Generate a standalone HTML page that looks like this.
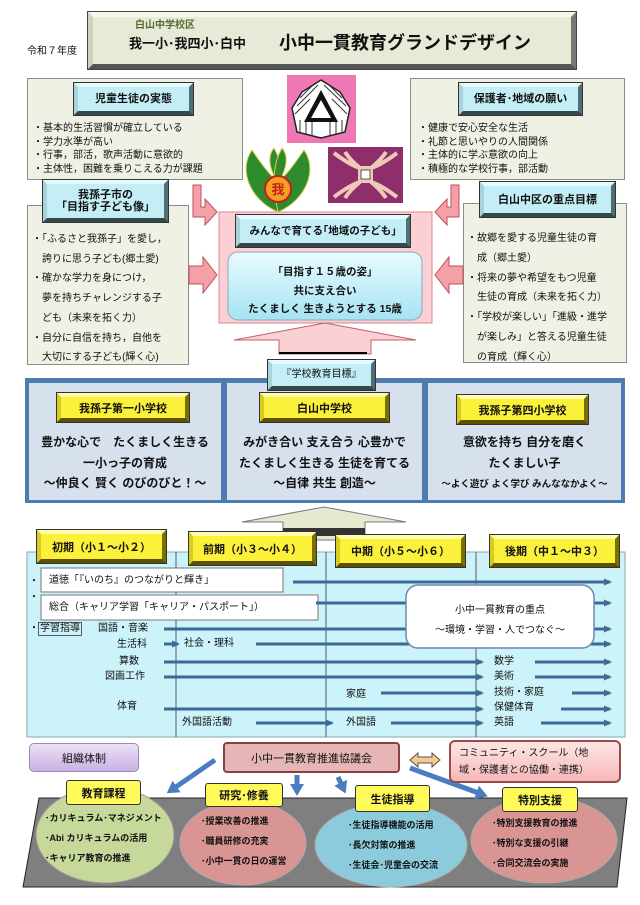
<!DOCTYPE html>
<html><head><meta charset="utf-8">
<style>
*{margin:0;padding:0;box-sizing:border-box}
body{width:640px;height:905px;background:#fff;position:relative;overflow:hidden;font-family:"Liberation Sans","Noto Sans CJK JP",sans-serif;color:#111}
.a{position:absolute}
.bevc{position:absolute;background:#c4eef6;border:4px solid;border-color:#e6fafd #4e6f74 #33494c #a8d3da;box-shadow:0 0 0 1px #333;display:flex;align-items:center;justify-content:center;font-weight:bold;font-size:11px;line-height:12px;text-align:center}
.bevy{position:absolute;background:#fbf03a;border:4px solid;border-color:#fffbb0 #7a7000 #5a5200 #d8cc20;box-shadow:0 0 0 1px #333;display:flex;align-items:center;justify-content:center;font-weight:bold;font-size:11px}
.box{position:absolute;background:#eef1e4;border:1px solid #8a8f86}
.t{position:absolute;font-size:10px;white-space:nowrap;line-height:12px}
.c{position:absolute;text-align:center;font-weight:bold;font-size:12px;white-space:nowrap}
.yl{position:absolute;background:#fff95a;border:1px solid #333;border-radius:3px;font-weight:bold;font-size:11px;display:flex;align-items:center;justify-content:center}
.it{position:absolute;font-size:9px;font-weight:bold;white-space:nowrap;line-height:20px}
</style></head><body>

<div class="a" style="left:88px;top:12px;width:488px;height:57px;background:#e7ead6;border:5px solid;border-color:#f6f8ec #777 #555 #cfd2bd;box-shadow:0 0 0 1px #444"></div>
<div class="t" style="left:135px;top:20px;font-size:10px;font-weight:bold;color:#556b2f">白山中学校区</div>
<div class="t" style="left:129px;top:36px;font-size:13px;font-weight:bold;line-height:16px">我一小･我四小･白中</div>
<div class="t" style="left:279px;top:33px;font-size:18px;font-weight:bold;line-height:20px">小中一貫教育グランドデザイン</div>
<div class="t" style="left:27px;top:46px;font-size:10px">令和７年度</div>

<div class="box" style="left:27px;top:78px;width:216px;height:102px"></div>
<div class="bevc" style="left:74px;top:83px;width:119px;height:32px">児童生徒の実態</div>
<div class="t" style="left:33px;top:122px;line-height:13.5px">・基本的生活習慣が確立している<br>・学力水準が高い<br>・行事，部活，歌声活動に意欲的<br>・主体性，困難を乗りこえる力が課題</div>

<div class="box" style="left:410px;top:78px;width:215px;height:102px"></div>
<div class="bevc" style="left:459px;top:83px;width:123px;height:32px">保護者･地域の願い</div>
<div class="t" style="left:418px;top:122px;line-height:13.5px">・健康で安心安全な生活<br>・礼節と思いやりの人間関係<br>・主体的に学ぶ意欲の向上<br>・積極的な学校行事，部活動</div>

<div class="box" style="left:27px;top:205px;width:162px;height:160px"></div>
<div class="bevc" style="left:43px;top:180px;width:125px;height:42px">我孫子市の<br>「目指す子ども像」</div>
<div class="t" style="left:32px;top:230px;line-height:19.7px">・「ふるさと我孫子」を愛し，<br>　誇りに思う子ども(郷土愛)<br>・確かな学力を身につけ，<br>　夢を持ちチャレンジする子<br>　ども（未来を拓く力）<br>・自分に自信を持ち，自他を<br>　大切にする子ども(輝く心)</div>

<div class="box" style="left:463px;top:203px;width:164px;height:160px"></div>
<div class="bevc" style="left:480px;top:182px;width:135px;height:35px">白山中区の重点目標</div>
<div class="t" style="left:467px;top:229px;line-height:19.8px">・故郷を愛する児童生徒の育<br>　成（郷土愛）<br>・将来の夢や希望をもつ児童<br>　生徒の育成（未来を拓く力）<br>・「学校が楽しい」「進級・進学<br>　が楽しみ」と答える児童生徒<br>　の育成（輝く心）</div>

<svg class="a" style="left:0;top:0" width="640" height="905">
 <rect x="287" y="75" width="69" height="68" fill="#ef78b4"/>
 <polygon points="321,80 340,92 350,108 345,132 321,138 297,132 292,108 302,92" fill="#fff" stroke="#222" stroke-width="1.5"/>
 <g stroke="#333" stroke-width="1">
  <line x1="300" y1="98" x2="312" y2="86"/><line x1="297" y1="106" x2="318" y2="85"/><line x1="295" y1="114" x2="310" y2="99"/>
  <line x1="330" y1="86" x2="342" y2="98"/><line x1="324" y1="85" x2="346" y2="106"/><line x1="332" y1="99" x2="347" y2="114"/>
  <line x1="300" y1="120" x2="300" y2="132"/><line x1="306" y1="120" x2="306" y2="134"/><line x1="312" y1="120" x2="312" y2="136"/><line x1="330" y1="120" x2="330" y2="136"/><line x1="336" y1="120" x2="336" y2="134"/><line x1="342" y1="120" x2="342" y2="132"/>
 </g>
 <polygon points="321,90 338,122 304,122" fill="#111"/>
 <polygon points="321,100 331,118 311,118" fill="#fff"/>
 <rect x="328" y="147" width="75" height="56" fill="#8e2f6c"/>
 <g fill="none" stroke="#f0c8b8" stroke-width="4">
  <path d="M334,153 Q350,165 360,168 Q350,160 345,152"/><path d="M397,153 Q381,165 371,168 Q381,160 386,152"/>
  <path d="M334,197 Q350,185 360,182 Q350,190 345,198"/><path d="M397,197 Q381,185 371,182 Q381,190 386,198"/>
 </g>
 <rect x="358" y="166" width="15" height="17" fill="#f0c8b8"/><rect x="361" y="170" width="9" height="9" fill="#fff" stroke="#555"/>
 <path d="M278,212 C250,200 238,170 252,150 C262,165 270,175 276,180 C268,165 268,155 274,148 C282,162 285,178 278,212Z" fill="#2e8b2e" stroke="#d8d050"/>
 <path d="M278,212 C306,200 318,170 304,150 C294,165 286,175 280,180 C288,165 288,155 282,148 C274,162 271,178 278,212Z" fill="#2e8b2e" stroke="#d8d050"/>
 <circle cx="278" cy="189" r="13" fill="#f5a020" stroke="#c02020" stroke-width="2"/>
 <text x="278" y="194" font-size="13" text-anchor="middle" fill="#c02020" font-weight="bold" font-family="Noto Sans CJK JP">我</text>

 <path d="M193,185 h8 v22 h4 v-8 l12,13 -12,13 v-8 h-12z" fill="#f4a0a8" stroke="#c05058"/>
 <path d="M459,185 h-8 v22 h-4 v-8 l-12,13 12,13 v-8 h12z" fill="#f4a0a8" stroke="#c05058"/>
 <path d="M189,266 h14 v-9 l14,18 -14,18 v-9 h-14z" fill="#f4a0a8" stroke="#c05058"/>
 <path d="M463,266 h-14 v-9 l-14,18 14,18 v-9 h14z" fill="#f4a0a8" stroke="#c05058"/>
 <rect x="219" y="212" width="213" height="111" fill="#fbd0d4" stroke="#d88890"/>
 <defs><linearGradient id="lb" x1="0" y1="0" x2="0" y2="1"><stop offset="0" stop-color="#e8fbfe"/><stop offset="1" stop-color="#a6e3f3"/></linearGradient></defs>
 <rect x="228" y="252" width="194" height="68" rx="10" fill="url(#lb)" stroke="#8ab"/>
 <path d="M279,354 v-14 h-45 l91,-17 91,17 h-45 v14z" fill="#fbd0d4" stroke="#c06068"/>
 <line x1="279" y1="353" x2="367" y2="353" stroke="#000" stroke-width="2"/>

 <rect x="25" y="378" width="600" height="125" fill="#4f7cb0"/>
 <rect x="29" y="383" width="192" height="117" fill="#d7e1ee"/>
 <rect x="227" y="383" width="195" height="117" fill="#d7e1ee"/>
 <rect x="428" y="383" width="193" height="117" fill="#d7e1ee"/>
 <path d="M283,540 v-18 h-41 l82,-15 82,15 h-41 v18z" fill="#e4ead0" stroke="#778"/>
 <rect x="283" y="528" width="82" height="8" fill="#333"/>

 <rect x="27" y="552" width="598" height="185" fill="#cdf3fa" stroke="#8aa"/>
 <g stroke="#557" stroke-width="1"><line x1="176" y1="552" x2="176" y2="737"/><line x1="326" y1="552" x2="326" y2="737"/><line x1="476" y1="552" x2="476" y2="737"/></g>
 <rect x="41" y="568" width="242" height="24" fill="#fff" stroke="#777"/>
 <rect x="41" y="595" width="277" height="25" fill="#fff" stroke="#777"/>
 <defs><marker id="ah" markerWidth="8" markerHeight="8" refX="6" refY="4" orient="auto" markerUnits="userSpaceOnUse"><path d="M0,0.5 L8,4 0,7.5z" fill="#3c6a96"/></marker>
 <marker id="bh" markerWidth="14" markerHeight="14" refX="8" refY="7" orient="auto" markerUnits="userSpaceOnUse"><path d="M0,0 L12,7 0,14z" fill="#4a7cc0"/></marker></defs>
 <g stroke="#3c6a96" stroke-width="3" marker-end="url(#ah)">
  <line x1="293" y1="582" x2="610" y2="582"/>
  <line x1="316" y1="603" x2="610" y2="603"/>
  <line x1="164" y1="629" x2="610" y2="629"/>
  <line x1="164" y1="644" x2="178" y2="644"/>
  <line x1="256" y1="644" x2="610" y2="644"/>
  <line x1="164" y1="662" x2="482" y2="662"/><line x1="535" y1="662" x2="610" y2="662"/>
  <line x1="164" y1="677" x2="482" y2="677"/><line x1="535" y1="677" x2="610" y2="677"/>
  <line x1="381" y1="693" x2="482" y2="693"/><line x1="572" y1="693" x2="610" y2="693"/>
  <line x1="164" y1="709" x2="482" y2="709"/><line x1="561" y1="709" x2="610" y2="709"/>
  <line x1="256" y1="723" x2="332" y2="723"/><line x1="391" y1="723" x2="482" y2="723"/><line x1="541" y1="723" x2="610" y2="723"/>
 </g>
 <rect x="406" y="585" width="188" height="63" rx="12" fill="#fff" stroke="#6a8ab0" stroke-width="1.5"/>

 <polygon points="39,798 627,798 617,887 23,887" fill="#7f7f7f" stroke="#222"/>
 <ellipse cx="105" cy="835" rx="69" ry="48" fill="#c6d89a" stroke="#999"/>
 <ellipse cx="243" cy="843" rx="63" ry="42" fill="#d99494" stroke="#aaa"/>
 <ellipse cx="391" cy="845" rx="76" ry="42" fill="#8ccbdc" stroke="#aaa"/>
 <ellipse cx="544" cy="840" rx="73" ry="43" fill="#d99494" stroke="#aaa"/>
 <g stroke="#4a7cc0" stroke-width="5" marker-end="url(#bh)">
  <line x1="215" y1="760" x2="170" y2="791"/>
  <line x1="297" y1="775" x2="297" y2="792"/>
  <line x1="338" y1="777" x2="344" y2="790"/>
  <line x1="410" y1="768" x2="484" y2="795"/>
 </g>
 <path d="M410,760 l8,-7 v4 h14 v-4 l8,7 -8,7 v-4 h-14 v4z" fill="#f8c890" stroke="#555"/>
</svg>

<div class="bevc" style="left:236px;top:215px;width:174px;height:32px;font-size:10.5px">みんなで育てる｢地域の子ども｣</div>
<div class="c" style="left:228px;top:263px;width:194px;font-size:10.5px;line-height:18.5px">｢目指す１５歳の姿｣<br>共に支え合い<br>たくましく 生きようとする 15歳</div>
<div class="bevc" style="left:268px;top:360px;width:107px;height:30px;font-weight:normal;font-size:10px">『学校教育目標』</div>

<div class="bevy" style="left:57px;top:393px;width:132px;height:29px">我孫子第一小学校</div>
<div class="bevy" style="left:260px;top:393px;width:129px;height:29px">白山中学校</div>
<div class="bevy" style="left:457px;top:395px;width:131px;height:29px">我孫子第四小学校</div>
<div class="c" style="left:29px;top:432px;width:192px;line-height:20.5px">豊かな心で　たくましく生きる<br>一小っ子の育成<br>～仲良く 賢く のびのびと！～</div>
<div class="c" style="left:227px;top:432px;width:195px;line-height:20.5px">みがき合い 支え合う 心豊かで<br>たくましく生きる 生徒を育てる<br>～自律 共生 創造～</div>
<div class="c" style="left:428px;top:432px;width:193px;line-height:20.5px">意欲を持ち 自分を磨く<br>たくましい子<br><span style="font-size:9.5px">～よく遊び よく学び みんななかよく～</span></div>

<div class="bevy" style="left:37px;top:530px;width:129px;height:33px">初期（小１～小２）</div>
<div class="bevy" style="left:189px;top:532px;width:127px;height:33px">前期（小３～小４）</div>
<div class="bevy" style="left:336px;top:535px;width:129px;height:32px">中期（小５～小６）</div>
<div class="bevy" style="left:490px;top:535px;width:129px;height:32px">後期（中１～中３）</div>

<div class="t" style="left:29px;top:576px">・</div>
<div class="t" style="left:49px;top:575px">道徳「『いのち』のつながりと輝き」</div>
<div class="t" style="left:29px;top:592px">・</div>
<div class="t" style="left:49px;top:602px">総合（キャリア学習「キャリア・パスポート」）</div>
<div class="t" style="left:415px;top:601px;width:170px;text-align:center;line-height:20px">小中一貫教育の重点<br>～環境・学習・人でつなぐ～</div>
<div class="t" style="left:29px;top:623px">・</div>
<div class="t" style="left:38px;top:622px;border:1px solid #556;padding:0 1px">学習指導</div>
<div class="t" style="left:98px;top:623px">国語・音楽</div>
<div class="t" style="left:117px;top:639px">生活科</div>
<div class="t" style="left:184px;top:638px">社会・理科</div>
<div class="t" style="left:119px;top:656px">算数</div>
<div class="t" style="left:494px;top:656px">数学</div>
<div class="t" style="left:105px;top:671px">図画工作</div>
<div class="t" style="left:494px;top:671px">美術</div>
<div class="t" style="left:346px;top:689px">家庭</div>
<div class="t" style="left:494px;top:687px">技術・家庭</div>
<div class="t" style="left:117px;top:701px">体育</div>
<div class="t" style="left:494px;top:702px">保健体育</div>
<div class="t" style="left:182px;top:717px">外国語活動</div>
<div class="t" style="left:346px;top:717px">外国語</div>
<div class="t" style="left:494px;top:717px">英語</div>

<div class="a" style="left:29px;top:743px;width:110px;height:29px;background:linear-gradient(#ece0f6,#c9b2e2);border:1px solid #9a88b8;border-radius:5px;font-size:11px;display:flex;align-items:center;justify-content:center">組織体制</div>
<div class="a" style="left:223px;top:742px;width:177px;height:31px;background:#e6b5b5;border:2px solid #8a4040;border-radius:4px;font-size:11px;display:flex;align-items:center;justify-content:center">小中一貫教育推進協議会</div>
<div class="a" style="left:449px;top:740px;width:172px;height:43px;background:linear-gradient(#fde6e6,#f6b8b8);border:2px solid #9a4a4a;border-radius:6px;font-size:10px;line-height:17px;padding:3px 0 0 8px">コミュニティ・スクール（地<br>域・保護者との協働・連携）</div>

<div class="yl" style="left:66px;top:780px;width:75px;height:25px">教育課程</div>
<div class="yl" style="left:205px;top:783px;width:78px;height:24px">研究･修養</div>
<div class="yl" style="left:355px;top:785px;width:75px;height:27px">生徒指導</div>
<div class="yl" style="left:502px;top:787px;width:76px;height:25px">特別支援</div>

<div class="it" style="left:45px;top:808px">･カリキュラム･マネジメント<br>･Abi カリキュラムの活用<br>･キャリア教育の推進</div>
<div class="it" style="left:201px;top:811px">･授業改善の推進<br>･職員研修の充実<br>･小中一貫の日の運営</div>
<div class="it" style="left:348px;top:815px">･生徒指導機能の活用<br>･長欠対策の推進<br>･生徒会･児童会の交流</div>
<div class="it" style="left:492px;top:813px">･特別支援教育の推進<br>･特別な支援の引継<br>･合同交流会の実施</div>
</body></html>
